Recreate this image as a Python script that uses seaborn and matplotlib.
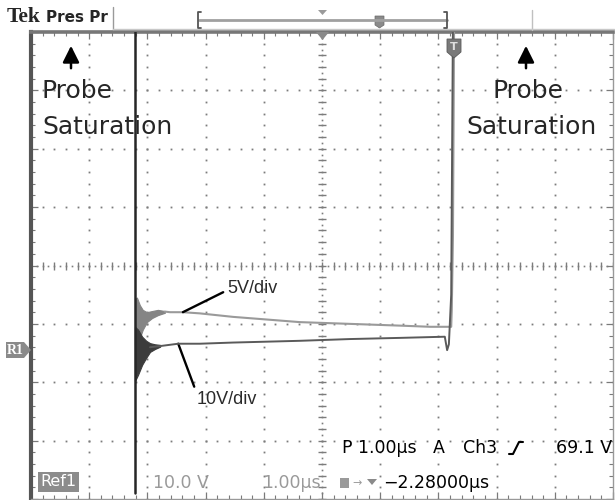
import numpy as np
import pandas as pd
import matplotlib
matplotlib.use("Agg")
import matplotlib.pyplot as plt
from matplotlib.patches import Polygon, Rectangle, FancyArrowPatch
from matplotlib.lines import Line2D
import seaborn as sns

# ---- trace data: time in divisions (1.00 us/div), level in screen divisions ----
# 5 V/div channel
t_5v = [2.30, 2.39, 2.61, 2.90, 3.47, 4.11, 4.62, 5.48, 6.34, 6.86, 7.16, 7.22, 7.23, 7.25, 7.27]
v_5v = [-0.79, -0.80, -0.80, -0.82, -0.88, -0.93, -0.97, -1.00, -1.03, -1.05, -1.05, -1.05, -0.75, 0.50, 4.20]
# ringing envelope right after the edge (5 V/div)
t_ring_5v = [1.787, 1.82, 1.87, 1.92, 1.99, 2.08, 2.18, 2.30]
hi_ring_5v = [-0.57, -0.55, -0.68, -0.76, -0.80, -0.78, -0.76, -0.78]
lo_ring_5v = [-1.36, -1.41, -1.24, -1.10, -0.97, -0.90, -0.85, -0.81]

# 10 V/div channel
t_10v = [2.045, 2.22, 2.53, 2.90, 3.47, 4.62, 5.48, 6.34, 7.11, 7.15, 7.18, 7.22, 7.25]
v_10v = [-1.40, -1.38, -1.34, -1.34, -1.32, -1.29, -1.26, -1.24, -1.22, -1.45, -1.35, -0.50, 4.20]
t_ring_10v = [1.787, 1.84, 1.91, 1.98, 2.045, 2.13, 2.22]
hi_ring_10v = [-1.05, -1.10, -1.22, -1.29, -1.33, -1.35, -1.36]
lo_ring_10v = [-1.98, -1.87, -1.70, -1.58, -1.48, -1.43, -1.39]

# saturated edge at the start of the record
t_sat = [1.787, 1.787]
v_sat = [4.20, -3.90]

W, H = 615, 500
sns.set_style("white")
plt.rcParams["font.family"] = ["DejaVu Sans"]

fig = plt.figure(figsize=(W / 100, H / 100), dpi=100)
fig.patch.set_facecolor("white")


def fx(x):
    return x / W


def fy(y):
    return 1 - y / H


def fig_line(xs, ys, **kw):
    fig.add_artist(Line2D([fx(x) for x in xs], [fy(y) for y in ys],
                          transform=fig.transFigure, **kw))


def fig_poly(pts, **kw):
    fig.add_artist(Polygon([(fx(x), fy(y)) for x, y in pts], closed=True,
                           transform=fig.transFigure, **kw))


# graticule area
L, R, T, B = 31, 613, 32, 499
ax = fig.add_axes([fx(L), fy(B), (R - L) / W, (B - T) / H])
ax.set_xlim(0, 10)
ax.set_ylim(-4, 4)
ax.set_facecolor("white")

dot_col = "#7c7c7c"
fine = np.arange(0, 10.001, 0.2)
fine_y = np.arange(-4, 4.001, 0.2)
for k in range(1, 10):
    if k == 5:
        continue
    ax.plot(np.full_like(fine_y, k), fine_y, ls="none", marker="s", ms=1.3,
            mew=0, color=dot_col, zorder=1)
for k in range(-3, 4):
    if k == 0:
        continue
    ax.plot(fine, np.full_like(fine, k), ls="none", marker="s", ms=1.3,
            mew=0, color=dot_col, zorder=1)
# centre lines with minor ticks
ax.plot(np.full_like(fine_y, 5), fine_y, ls="none", marker="_", ms=6, mew=1.0,
        color=dot_col, zorder=1)
ax.plot(fine, np.zeros_like(fine), ls="none", marker="|", ms=6, mew=1.0,
        color=dot_col, zorder=1)
ax.plot(np.full(81, 5.0), np.arange(-4, 4.001, 0.1), ls="none", marker="s",
        ms=1.2, mew=0, color=dot_col, zorder=1)
ax.plot(np.arange(0, 10.001, 0.1), np.zeros(101), ls="none", marker="s",
        ms=1.2, mew=0, color=dot_col, zorder=1)

# border ticks
ax.set_xticks(np.arange(0, 11, 1))
ax.set_yticks(np.arange(-4, 5, 1))
ax.set_xticks(fine, minor=True)
ax.set_yticks(fine_y, minor=True)
ax.tick_params(which="both", direction="in", top=True, right=True,
               bottom=True, left=True, labelbottom=False, labelleft=False,
               color="#7a7a7a")
ax.tick_params(which="major", length=5, width=0.9)
ax.tick_params(which="minor", length=3, width=0.8)
for side, lw, col in [("left", 3.0, "#555555"), ("top", 2.6, "#777777"),
                      ("right", 1.0, "#999999"), ("bottom", 1.0, "#999999")]:
    ax.spines[side].set_visible(True)
    ax.spines[side].set_linewidth(lw)
    ax.spines[side].set_color(col)

# ---- traces ----
ax.fill_between(t_ring_5v, lo_ring_5v, hi_ring_5v, color="#858585", lw=0.8,
                edgecolor="#858585", zorder=3)
ax.fill_between(t_ring_10v, lo_ring_10v, hi_ring_10v, color="#3c3c3c", lw=0.8,
                edgecolor="#3c3c3c", zorder=4)
df5 = pd.DataFrame({"t": t_5v, "v": v_5v})
df10 = pd.DataFrame({"t": t_10v, "v": v_10v})
dfs = pd.DataFrame({"t": t_sat, "v": v_sat})
sns.lineplot(data=df5, x="t", y="v", sort=False, estimator=None, ax=ax,
             color="#9a9a9a", lw=1.5, zorder=3)
sns.lineplot(data=df10, x="t", y="v", sort=False, estimator=None, ax=ax,
             color="#5a5a5a", lw=1.4, zorder=4)
sns.lineplot(data=dfs, x="t", y="v", sort=False, estimator=None, ax=ax,
             color="#262626", lw=1.8, zorder=5)
ax.set_xlabel("")
ax.set_ylabel("")

# trace labels with leaders
ax.annotate("5V/div", xy=(t_5v[2], v_5v[2]), xytext=(3.38, -0.39),
            ha="left", va="center", fontsize=13, color="#2a2a2a",
            family="Liberation Sans",
            arrowprops=dict(arrowstyle="-", color="black", lw=1.7,
                            relpos=(0.0, 0.4), shrinkA=1, shrinkB=0))
ax.annotate("10V/div", xy=(t_10v[2], v_10v[2]), xytext=(2.85, -2.30),
            ha="left", va="center", fontsize=13, color="#2a2a2a",
            family="Liberation Sans",
            arrowprops=dict(arrowstyle="-", color="black", lw=1.7,
                            relpos=(0.0, 0.85), shrinkA=1, shrinkB=0))

# probe saturation notes
fig.text(fx(41), fy(91), "Probe", fontsize=18, va="center", ha="left")
fig.text(fx(42), fy(127), "Saturation", fontsize=18, va="center", ha="left")
fig.text(fx(528), fy(91), "Probe", fontsize=18, va="center", ha="center")
fig.text(fx(531), fy(127), "Saturation", fontsize=18, va="center", ha="center")
for xa in (71, 526):
    fig.add_artist(FancyArrowPatch(
        (fx(xa), fy(71)), (fx(xa), fy(43)), transform=fig.transFigure,
        arrowstyle="-|>,head_length=5,head_width=2.5", color="black",
        lw=1.8, mutation_scale=2))

# ---- screen markers ----
fig_poly([(316, 32), (329, 32), (322.5, 40)], fc="#8a8a8a", ec="none", zorder=6)
fig_poly([(447, 39), (461, 39), (461, 52), (454, 58), (447, 52)],
         fc="#7a7a7a", ec="#5a5a5a", lw=0.6, zorder=6)
fig.text(fx(454), fy(47), "T", fontsize=8, color="#e0e0e0", ha="center",
         va="center", weight="bold", zorder=7)
fig_poly([(6, 342), (24, 342), (31, 350), (24, 358), (6, 358)],
         fc="#8a8a8a", ec="none", zorder=6)
fig.text(fx(15.5), fy(350), "R1", fontsize=10, color="white", ha="center",
         va="center", weight="bold", family="Liberation Serif", zorder=7)

# ---- header ----
fig.text(fx(7), fy(17), "Tek", fontsize=15.5, weight="bold",
         family="Liberation Serif", va="center", ha="left")
fig.text(fx(46), fy(17), "Pres Pr", fontsize=11, weight="bold",
         va="center", ha="left")
fig_line([113, 113], [7, 30], color="#9a9a9a", lw=1.0)
fig_line([532, 532], [10, 30], color="#c0c0c0", lw=1.0)
fig_line([113, 614], [29, 29], color="#c8c8c8", lw=1.0)
fig_line([199, 447], [20, 20], color="#a0a0a0", lw=2.0)
fig_line([201, 198, 198, 201], [12, 12, 28, 28], color="#555555", lw=1.3)
fig_line([444, 447, 447, 444], [12, 12, 28, 28], color="#555555", lw=1.3)
fig_poly([(318, 10), (327, 10), (322.5, 15)], fc="#9a9a9a", ec="none")
fig_poly([(375, 16), (384, 16), (384, 25), (379.5, 28), (375, 25)],
         fc="#8a8a8a", ec="#6a6a6a", lw=0.5)

# ---- readouts ----
ro = dict(fontsize=12.5, va="center", ha="left", family="DejaVu Sans")
fig.text(fx(342), fy(448), "P 1.00µs", color="black", **ro)
fig.text(fx(433), fy(448), "A", color="black", **ro)
fig.text(fx(463), fy(448), "Ch3", color="black", **ro)
fig_line([509, 513, 519, 523], [454, 454, 442, 442], color="black", lw=1.5)
fig.text(fx(612), fy(448), "69.1 V", color="black",
         **{**ro, "ha": "right"})

fig.text(fx(40), fy(482), "Ref1", fontsize=11.5, color="white", va="center",
         ha="left", bbox=dict(boxstyle="square,pad=0.15", fc="#8c8c8c",
                              ec="none"))
fig.text(fx(153), fy(483), "10.0 V", color="#9a9a9a", **ro)
fig.text(fx(262), fy(483), "1.00µs", color="#9a9a9a", **ro)
fig.add_artist(Rectangle((fx(340), fy(488)), 9 / W, 10 / H, fc="#9a9a9a",
                         ec="none", transform=fig.transFigure))
fig.text(fx(357), fy(483), "→", color="#9a9a9a", fontsize=8, ha="center",
         va="center")
fig_poly([(367, 479), (377, 479), (372, 485)], fc="#8a8a8a", ec="none")
fig.text(fx(383), fy(483), "−2.28000µs", color="black", **ro)

fig.savefig("out.png", dpi=100, facecolor="white")
